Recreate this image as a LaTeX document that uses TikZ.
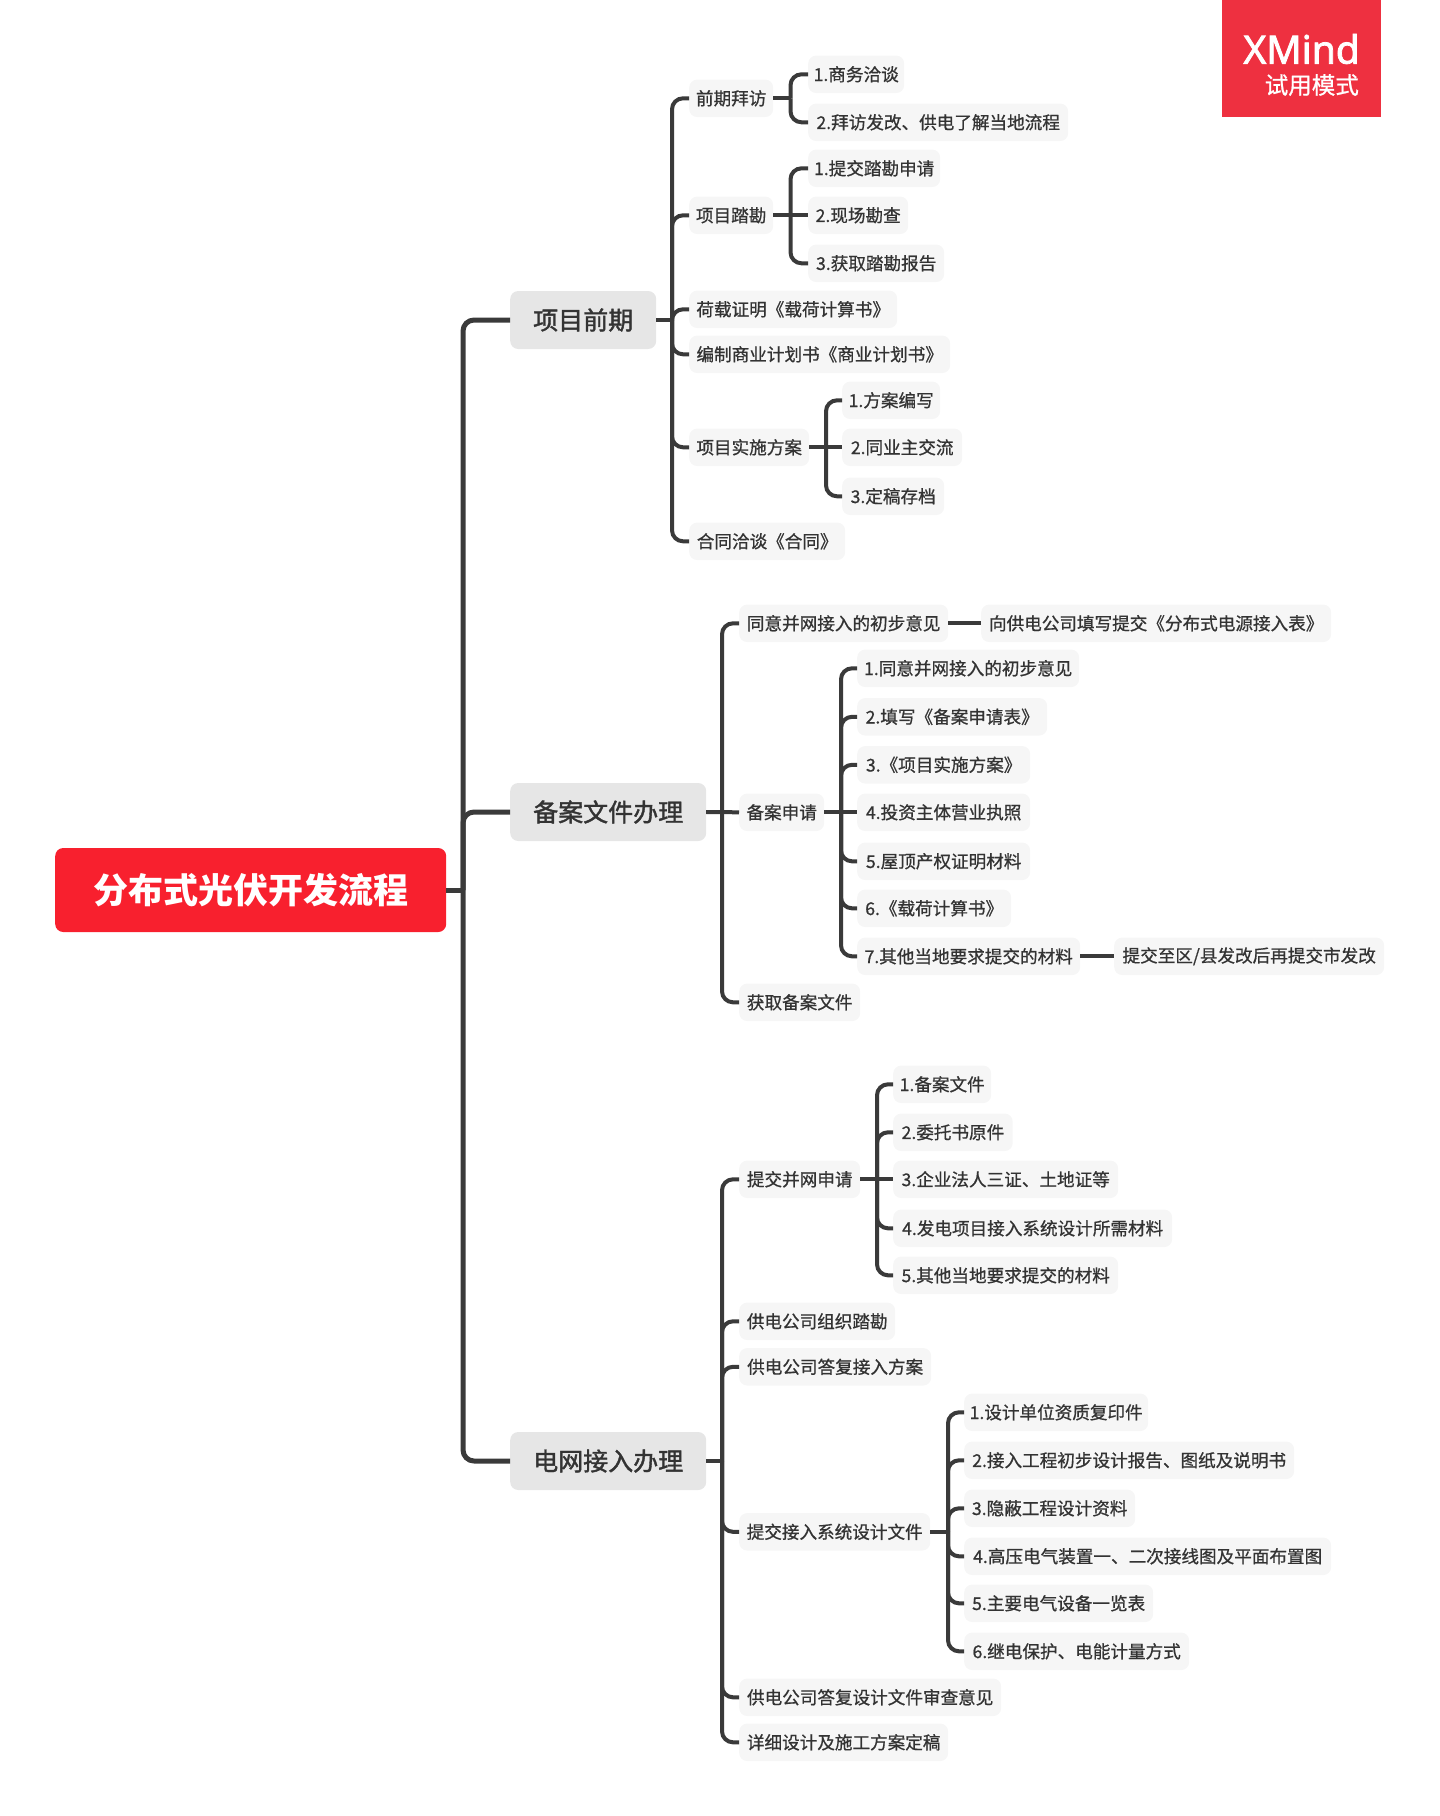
\documentclass[tikz,border=0pt]{standalone}
\usepackage{fontspec}
\setmainfont{Noto Sans CJK SC}
\newfontfamily\xmfont[FakeBold=2]{Noto Sans}
\newfontfamily\medfont[FakeBold=0.8]{Noto Sans CJK SC}
\newfontfamily\majfont[FakeBold=1.5]{Noto Sans CJK SC}
\definecolor{ink}{HTML}{333333}
\definecolor{wireink}{HTML}{3A3A3A}
\definecolor{rootred}{HTML}{F8202E}
\definecolor{markred}{HTML}{EE3040}
\definecolor{majorgray}{HTML}{E6E6E6}
\definecolor{leafgray}{HTML}{F6F6F6}
\tikzset{
  box/.style={anchor=west,rounded corners=8pt,inner sep=0pt,text=ink,align=center},
  rootbox/.style={box,fill=rootred,text=white,minimum height=84pt,font=\fontsize{35}{40}\selectfont\bfseries},
  majorbox/.style={box,fill=majorgray,minimum height=58pt,font=\majfont\fontsize{25}{30}\selectfont},
  leafbox/.style={box,fill=leafgray,minimum height=37.5pt,yshift=-0.3pt,font=\medfont\fontsize{17.6}{22}\selectfont},
  wire/.style={draw=wireink,line width=4pt,line join=round},
  mainwire/.style={draw=wireink,line width=5pt,line join=round},
}
\newcommand\nd[6][leafbox]{\node[#1,minimum width={(#4-#3)*1pt}] (#2) at (#3,#5) {#6};}
\newcommand\lnk[4][wire]{\draw[#1] (#2.east) -- (#2.east -| #3);
  \draw[#1,rounded corners=11pt] (#3 |- #2.east) -- (#3 |- #4.west) -- (#4.west);}
\newcommand\str[3][wire]{\draw[#1] (#2.east) -- (#3.west);}
\begin{document}
\begin{tikzpicture}[x=1pt,y=-1pt]
\useasboundingbox (0,0) rectangle (1440,1816);
% watermark
\fill[markred] (1222,0) rectangle (1380.5,117);
\node[anchor=east,inner sep=0pt,text=white,font=\xmfont\fontsize{39}{42}\selectfont] (wmA) at (1360,49) {XMind};
\node[anchor=east,inner sep=0pt,text=white,font=\medfont\fontsize{23.5}{26}\selectfont] (wmB) at (1359,85) {试用模式};
% spines
\coordinate (s0) at (463,0);
\coordinate (sA) at (672,0);
\coordinate (sA1) at (790.5,0);
\coordinate (sA5) at (826,0);
\coordinate (sB) at (722,0);
\coordinate (sB2) at (841,0);
\coordinate (sC1) at (877,0);
\coordinate (sC4) at (948,0);
% root and main branches
\nd[rootbox]{root}{55}{446}{890}{分布式光伏开发流程}
\nd[majorbox]{A}{510}{656}{320}{项目前期}
\nd[majorbox]{B}{510}{706}{812}{备案文件办理}
\nd[majorbox]{C}{510}{706}{1461}{电网接入办理}
% branch A
\nd{A1}{689}{773}{98}{前期拜访}
\nd{A2}{689}{773}{215}{项目踏勘}
\nd{A3}{689}{897}{309}{荷载证明《载荷计算书》}
\nd{A4}{689}{950}{354}{编制商业计划书《商业计划书》}
\nd{A5}{689}{809}{447}{项目实施方案}
\nd{A6}{689}{845}{541}{合同洽谈《合同》}
\nd{A1a}{808}{904}{74}{1.商务洽谈}
\nd{A1b}{808}{1068}{122}{2.拜访发改、供电了解当地流程}
\nd{A2a}{808}{940}{168}{1.提交踏勘申请}
\nd{A2b}{808}{908}{215}{2.现场勘查}
\nd{A2c}{808}{944}{263}{3.获取踏勘报告}
\nd{A5a}{842}{940}{400}{1.方案编写}
\nd{A5b}{842}{962}{447}{2.同业主交流}
\nd{A5c}{842}{944}{496}{3.定稿存档}
% branch B
\nd{B1}{739}{948}{623}{同意并网接入的初步意见}
\nd{B1a}{981}{1331}{623}{向供电公司填写提交《分布式电源接入表》}
\nd{B2}{739}{824}{812}{备案申请}
\nd{B3}{739}{860}{1002}{获取备案文件}
\nd{B2a}{857}{1079}{668}{1.同意并网接入的初步意见}
\nd{B2b}{857}{1047}{716.5}{2.填写《备案申请表》}
\nd{B2c}{857}{1030}{764.5}{3.《项目实施方案》}
\nd{B2d}{857}{1030}{812}{4.投资主体营业执照}
\nd{B2e}{857}{1030}{861}{5.屋顶产权证明材料}
\nd{B2f}{857}{1011}{908}{6.《载荷计算书》}
\nd{B2g}{857}{1080}{956}{7.其他当地要求提交的材料}
\nd{B2h}{1114}{1384}{956}{提交至区/县发改后再提交市发改}
% branch C
\nd{C1}{739}{860}{1179}{提交并网申请}
\nd{C2}{739}{895}{1321}{供电公司组织踏勘}
\nd{C3}{739}{931}{1366.5}{供电公司答复接入方案}
\nd{C4}{739}{930}{1531.5}{提交接入系统设计文件}
\nd{C5}{739}{1001}{1697}{供电公司答复设计文件审查意见}
\nd{C6}{739}{948}{1742}{详细设计及施工方案定稿}
\nd{C1a}{893}{991}{1084}{1.备案文件}
\nd{C1b}{893}{1012.5}{1132}{2.委托书原件}
\nd{C1c}{893}{1118}{1179}{3.企业法人三证、土地证等}
\nd{C1d}{893}{1172}{1228}{4.发电项目接入系统设计所需材料}
\nd{C1e}{893}{1118}{1275}{5.其他当地要求提交的材料}
\nd{C4a}{964}{1148}{1412}{1.设计单位资质复印件}
\nd{C4b}{964}{1294}{1460}{2.接入工程初步设计报告、图纸及说明书}
\nd{C4c}{964}{1135}{1508}{3.隐蔽工程设计资料}
\nd{C4d}{964}{1331}{1556}{4.高压电气装置一、二次接线图及平面布置图}
\nd{C4e}{964}{1153}{1603}{5.主要电气设备一览表}
\nd{C4f}{964}{1189}{1651}{6.继电保护、电能计量方式}
% connectors
\lnk[mainwire]{root}{s0}{A}
\lnk[mainwire]{root}{s0}{B}
\lnk[mainwire]{root}{s0}{C}
\lnk{A}{sA}{A1}\lnk{A}{sA}{A2}\lnk{A}{sA}{A3}\lnk{A}{sA}{A4}\lnk{A}{sA}{A5}\lnk{A}{sA}{A6}
\lnk{A1}{sA1}{A1a}\lnk{A1}{sA1}{A1b}
\lnk{A2}{sA1}{A2a}\str{A2}{A2b}\lnk{A2}{sA1}{A2c}
\lnk{A5}{sA5}{A5a}\str{A5}{A5b}\lnk{A5}{sA5}{A5c}
\lnk{B}{sB}{B1}\str{B}{B2}\lnk{B}{sB}{B3}
\str{B1}{B1a}
\lnk{B2}{sB2}{B2a}\lnk{B2}{sB2}{B2b}\lnk{B2}{sB2}{B2c}\str{B2}{B2d}\lnk{B2}{sB2}{B2e}\lnk{B2}{sB2}{B2f}\lnk{B2}{sB2}{B2g}
\str{B2g}{B2h}
\lnk{C}{sB}{C1}\lnk{C}{sB}{C2}\lnk{C}{sB}{C3}\lnk{C}{sB}{C4}\lnk{C}{sB}{C5}\lnk{C}{sB}{C6}
\lnk{C1}{sC1}{C1a}\lnk{C1}{sC1}{C1b}\str{C1}{C1c}\lnk{C1}{sC1}{C1d}\lnk{C1}{sC1}{C1e}
\lnk{C4}{sC4}{C4a}\lnk{C4}{sC4}{C4b}\lnk{C4}{sC4}{C4c}\lnk{C4}{sC4}{C4d}\lnk{C4}{sC4}{C4e}\lnk{C4}{sC4}{C4f}
\end{tikzpicture}
\end{document}
